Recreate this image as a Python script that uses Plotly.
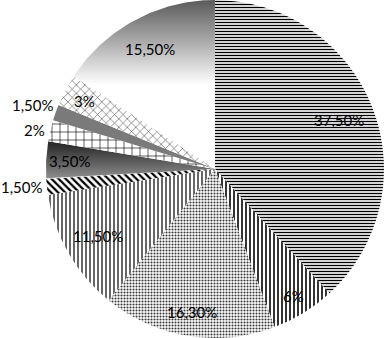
import math
import plotly.graph_objects as go

labels = ["A", "B", "C", "D", "E", "F", "G", "H", "I", "J"]
values = [37.5, 6, 16.3, 11.5, 1.5, 3.5, 2, 1.5, 3, 15.5]
text_labels = ["37,50%", "6%", "16,30%", "11,50%", "1,50%", "3,50%", "2%", "1,50%", "3%", "15,50%"]

# styles
shapes = ["-", "|", ".", "|", "\\", "", "+", "", "x", ""]
bg = ["white", "white", "white", "white", "white", "rgba(0,0,0,0)", "white", "#7a7a7a", "white", "rgba(0,0,0,0)"]
fg = ["black", "black", "#3a3a3a", "black", "black", "black", "black", "black", "#555555", "black"]
sizes = [3, 4, 3, 4, 5, 6, 8, 6, 6, 6]
solid = [0.45, 0.4, 0.4, 0.3, 0.45, 0.3, 0.15, 0.3, 0.2, 0.3]
# label placement: radial factor (>1 = outside) and vertical nudge
label_r = [0.79, 0.88, 0.86, 0.80, 1.01, 0.86, 1.02, 1.0, 0.87, 0.81]
label_dy = [0, 0, 0, 0, 0, 0, 0, 8, 0, 0]
gradients = {5: ["#8c8c8c", "#2c2c2c", 178, 145], 9: ["#ffffff", "#5a5a5a", 85, 0]}

W, H = 388, 338
dom_x = [0.108, 1.0]
cx = W * (dom_x[0] + dom_x[1]) / 2
cy = H / 2
r = min(W * (dom_x[1] - dom_x[0]), H) / 2

total = sum(values)

fig = go.Figure()

# gradient-filled slices (drawn underneath transparent pie slices)
cum = 0
for i, v in enumerate(values):
    a0 = cum / total * 2 * math.pi
    a1 = (cum + v) / total * 2 * math.pi
    cum += v
    if i in gradients:
        c_lo, c_hi, y_lo, y_hi = gradients[i]
        n = 60
        xs = [cx]
        ys = [H - cy]
        for k in range(n + 1):
            a = a0 + (a1 - a0) * k / n
            xs.append(cx + r * math.sin(a))
            ys.append(H - (cy - r * math.cos(a)))
        xs.append(cx)
        ys.append(H - cy)
        fig.add_trace(go.Scatter(
            x=xs, y=ys, mode="lines", fill="toself",
            line=dict(width=0, color="rgba(0,0,0,0)"),
            fillgradient=dict(type="vertical",
                              colorscale=[[0, c_lo], [1, c_hi]],
                              start=H - y_lo, stop=H - y_hi),
            hoverinfo="skip", showlegend=False,
        ))

fig.add_trace(go.Pie(
    labels=labels,
    values=values,
    textinfo="none",
    sort=False,
    direction="clockwise",
    rotation=0,
    marker=dict(
        colors=bg,
        line=dict(width=0),
        pattern=dict(shape=shapes, fgcolor=fg, bgcolor=bg, size=sizes, solidity=solid),
    ),
    domain=dict(x=dom_x, y=[0, 1]),
    showlegend=False,
))

# labels at slice mid-angles
cum = 0
for i, v in enumerate(values):
    mid = (cum + v / 2) / total * 2 * math.pi
    cum += v
    rr = r * label_r[i]
    x = cx + rr * math.sin(mid)
    y = H - (cy - rr * math.cos(mid))
    outside = label_r[i] >= 1
    fig.add_annotation(
        x=x, y=y, xref="x", yref="y", text=text_labels[i], showarrow=False,
        xanchor="right" if outside else "center", yanchor="middle",
        yshift=label_dy[i],
        font=dict(family="Lato", size=15, color="black"),
    )

fig.update_layout(
    width=W, height=H,
    margin=dict(l=0, r=0, t=0, b=0),
    paper_bgcolor="white",
    plot_bgcolor="rgba(0,0,0,0)",
    xaxis=dict(range=[0, W], domain=[0, 1], visible=False, fixedrange=True),
    yaxis=dict(range=[0, H], domain=[0, 1], visible=False, fixedrange=True),
)

fig.write_html(
    "out.html",
    config={"displayModeBar": False},
    post_script="document.body.style.margin='0';document.body.style.overflow='hidden';",
)
